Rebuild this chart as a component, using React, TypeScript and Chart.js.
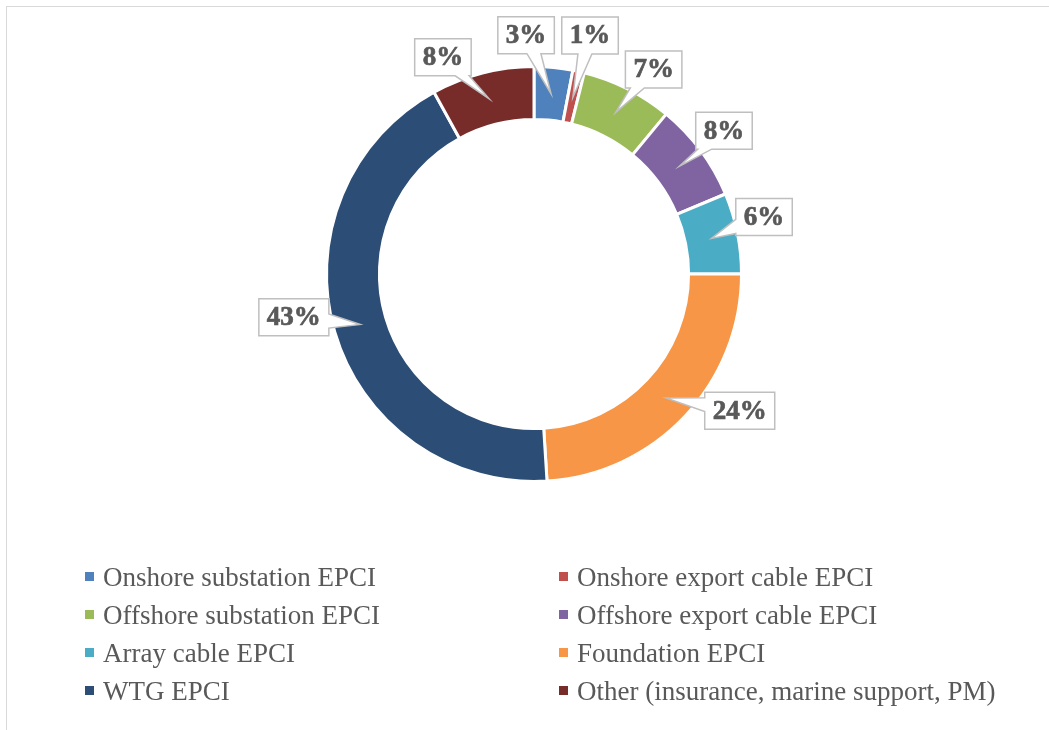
import React, { useEffect, useRef } from 'react';
import { Chart, registerables } from 'chart.js';

Chart.register(...registerables);

const categories = [
  'Onshore substation EPCI',
  'Onshore export cable EPCI',
  'Offshore substation EPCI',
  'Offshore export cable EPCI',
  'Array cable EPCI',
  'Foundation EPCI',
  'WTG EPCI',
  'Other (insurance, marine support, PM)',
];
const shares = [3.0, 0.9, 7.1, 7.7, 6.3, 24, 43, 8];
const sliceColors = ['#4F81BD', '#C0504D', '#9BBB59', '#8064A2', '#4BACC6', '#F79646', '#2C4D75', '#772C2A'];

// callout placement tweaks (angle shift in degrees from slice middle, distance from centre)
const calloutAngleShift = [-7.3, 0.8, 3.5, -0.5, -2.6, -9.6, 6, -8.4];
const calloutRadius = [239, 245, 237, 238, 237, 247, 244, 235];

const TEXT_COLOR = '#595959';

const calloutPlugin = {
  id: 'callouts',
  afterDatasetsDraw(chart: any, _args: any, opts: any) {
    const ctx = chart.ctx;
    const meta = chart.getDatasetMeta(0);
    const data: number[] = chart.data.datasets[0].data;
    const total = data.reduce((a, b) => a + b, 0);
    ctx.save();
    ctx.font = opts.font;
    meta.data.forEach((arc: any, i: number) => {
      const p = arc.getProps(['x', 'y', 'startAngle', 'endAngle', 'innerRadius', 'outerRadius'], true);
      const mid = (p.startAngle + p.endAngle) / 2;
      const tipR = (p.innerRadius + p.outerRadius) / 2;
      const tx = p.x + Math.cos(mid) * tipR;
      const ty = p.y + Math.sin(mid) * tipR;
      const ang = mid + ((opts.angleShift[i] || 0) * Math.PI) / 180;
      const br = opts.radius[i];
      const cx = p.x + Math.cos(ang) * br;
      const cy = p.y + Math.sin(ang) * br;
      const text = Math.round((data[i] / total) * 100) + '%';
      const w = ctx.measureText(text).width + 2 * opts.padX;
      const h = opts.boxHeight;
      const x0 = cx - w / 2, x1 = cx + w / 2, y0 = cy - h / 2, y1 = cy + h / 2;
      const dx = tx - cx, dy = ty - cy;
      const bw = 7;
      let side: number;
      if (Math.abs(dx) * (h / 2) > Math.abs(dy) * (w / 2)) side = dx > 0 ? 1 : 3;
      else side = dy > 0 ? 2 : 0;
      const clamp = (v: number, a: number, b: number) => Math.max(a, Math.min(b, v));
      let b1: number[] = [0, 0], b2: number[] = [0, 0];
      if (side === 0 || side === 2) {
        const ix = clamp(cx + (dx * (h / 2)) / Math.abs(dy), x0 + bw + 2, x1 - bw - 2);
        if (side === 0) { b1 = [ix - bw, y0]; b2 = [ix + bw, y0]; }
        else { b1 = [ix + bw, y1]; b2 = [ix - bw, y1]; }
      } else {
        const iy = clamp(cy + (dy * (w / 2)) / Math.abs(dx), y0 + bw + 2, y1 - bw - 2);
        if (side === 1) { b1 = [x1, iy - bw]; b2 = [x1, iy + bw]; }
        else { b1 = [x0, iy + bw]; b2 = [x0, iy - bw]; }
      }
      const corners = [[x0, y0], [x1, y0], [x1, y1], [x0, y1]];
      ctx.beginPath();
      ctx.moveTo(corners[0][0], corners[0][1]);
      for (let s = 0; s < 4; s++) {
        if (s === side) {
          ctx.lineTo(b1[0], b1[1]);
          ctx.lineTo(tx, ty);
          ctx.lineTo(b2[0], b2[1]);
        }
        const end = corners[(s + 1) % 4];
        ctx.lineTo(end[0], end[1]);
      }
      ctx.closePath();
      ctx.fillStyle = '#ffffff';
      ctx.fill();
      ctx.lineWidth = opts.lineWidth;
      ctx.strokeStyle = opts.borderColor;
      ctx.lineJoin = 'miter';
      ctx.stroke();
      ctx.fillStyle = opts.color;
      ctx.strokeStyle = opts.color;
      ctx.lineWidth = 0.7;
      ctx.textAlign = 'center';
      ctx.textBaseline = 'middle';
      ctx.fillText(text, cx, cy + 1);
      ctx.strokeText(text, cx, cy + 1);
    });
    ctx.restore();
  },
};

export default function App() {
  const canvasRef = useRef<HTMLCanvasElement | null>(null);

  useEffect(() => {
    if (!canvasRef.current) return;
    const chart = new Chart(canvasRef.current, {
      type: 'doughnut',
      data: {
        labels: categories,
        datasets: [
          {
            data: shares,
            backgroundColor: sliceColors,
            borderColor: '#ffffff',
            borderWidth: 3,
          },
        ],
      },
      options: {
        responsive: false,
        devicePixelRatio: 1,
        animation: false,
        cutout: '74.5%',
        layout: { padding: { left: 325, top: 65, right: 306, bottom: 247 } },
        plugins: {
          legend: { display: false },
          tooltip: { enabled: false },
          callouts: {
            font: 'bold 27px "Liberation Serif"',
            color: TEXT_COLOR,
            borderColor: '#bfbfbf',
            lineWidth: 1.5,
            padX: 8,
            boxHeight: 37,
            angleShift: calloutAngleShift,
            radius: calloutRadius,
          },
        } as any,
      },
      plugins: [calloutPlugin as any],
    });
    return () => chart.destroy();
  }, []);

  const colX = [85, 559];
  return (
    <div
      style={{
        position: 'fixed',
        left: 0,
        top: 0,
        width: 1049,
        height: 730,
        overflow: 'hidden',
        background: '#ffffff',
      }}
    >
      <div
        style={{
          position: 'absolute',
          left: 6,
          top: 6,
          width: 1100,
          height: 800,
          border: '1px solid #d9d9d9',
          boxSizing: 'border-box',
        }}
      />
      <canvas
        ref={canvasRef}
        width={1049}
        height={730}
        style={{ position: 'absolute', left: 0, top: 0, width: 1049, height: 730 }}
      />
      {categories.map((c, i) => {
        const col = i % 2;
        const row = Math.floor(i / 2);
        const sx = colX[col];
        return (
          <React.Fragment key={c}>
            <div
              style={{
                position: 'absolute',
                left: sx,
                top: 572 + row * 38,
                width: 9,
                height: 9,
                background: sliceColors[i],
              }}
            />
            <div
              style={{
                position: 'absolute',
                left: sx + 18,
                top: 562 + row * 38,
                font: '27px "Liberation Serif"',
                lineHeight: '30px',
                color: TEXT_COLOR,
                whiteSpace: 'nowrap',
              }}
            >
              {c}
            </div>
          </React.Fragment>
        );
      })}
    </div>
  );
}
